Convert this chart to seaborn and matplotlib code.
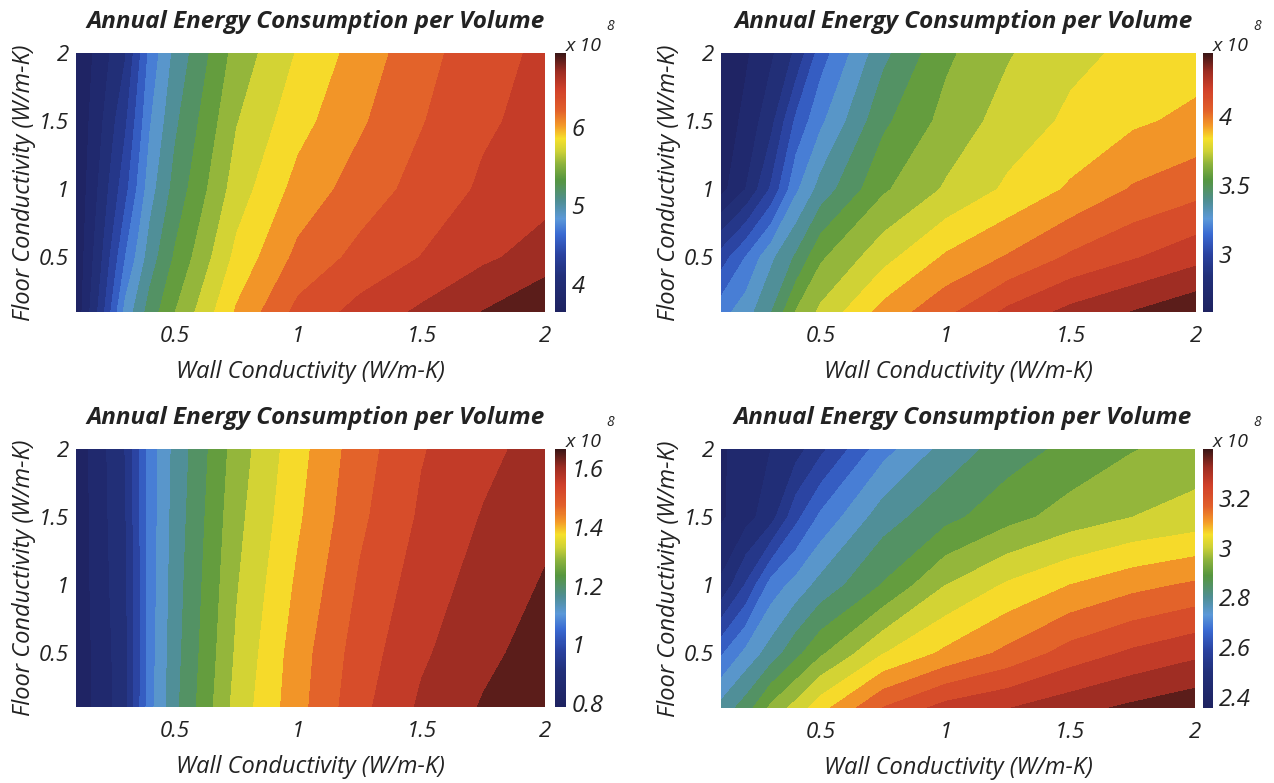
import numpy as np
import matplotlib
matplotlib.use("Agg")
import matplotlib.pyplot as plt
import seaborn as sns
from matplotlib.colors import Normalize, LinearSegmentedColormap
from matplotlib.cm import ScalarMappable

# grid: wall conductivity (x), floor conductivity (y)
wall_k = [0.1, 0.2, 0.3, 0.4, 0.5, 0.75, 1.0, 1.25, 1.5, 1.75, 2.0]
floor_k = [0.1, 0.5, 1.0, 1.5, 2.0]

# annual energy per volume (x 10^8), one row per floor value
energy_tl = [
    [3.68, 4.20, 4.85, 5.20, 5.45, 5.97, 6.33, 6.50, 6.64, 6.78, 6.94],
    [3.67, 4.10, 4.63, 5.04, 5.31, 5.83, 6.16, 6.33, 6.45, 6.58, 6.68],
    [3.66, 4.01, 4.41, 4.89, 5.18, 5.70, 6.01, 6.19, 6.34, 6.47, 6.55],
    [3.655, 3.94, 4.27, 4.78, 5.09, 5.61, 5.89, 6.09, 6.27, 6.42, 6.50],
    [3.65, 3.88, 4.12, 4.68, 5.00, 5.52, 5.80, 6.02, 6.22, 6.38, 6.48],
]
energy_tr = [
    [3.20, 3.29, 3.42, 3.62, 3.73, 3.93, 4.06, 4.20, 4.30, 4.37, 4.44],
    [3.00, 3.15, 3.31, 3.44, 3.60, 3.77, 3.91, 4.00, 4.10, 4.17, 4.24],
    [2.64, 2.77, 2.97, 3.22, 3.37, 3.60, 3.72, 3.82, 3.91, 4.00, 4.05],
    [2.61, 2.70, 2.83, 3.07, 3.22, 3.50, 3.645, 3.75, 3.82, 3.88, 3.92],
    [2.60, 2.66, 2.75, 2.88, 3.10, 3.40, 3.595, 3.70, 3.78, 3.82, 3.85],
]
energy_bl = [
    [0.800, 0.850, 0.900, 1.080, 1.170, 1.330, 1.430, 1.520, 1.585, 1.625, 1.660],
    [0.800, 0.850, 0.905, 1.075, 1.165, 1.320, 1.425, 1.510, 1.570, 1.610, 1.640],
    [0.800, 0.855, 0.910, 1.072, 1.160, 1.310, 1.410, 1.495, 1.555, 1.595, 1.625],
    [0.800, 0.858, 0.915, 1.070, 1.155, 1.300, 1.395, 1.480, 1.540, 1.580, 1.610],
    [0.800, 0.860, 0.920, 1.070, 1.150, 1.290, 1.385, 1.470, 1.530, 1.565, 1.595],
]
energy_br = [
    [2.79, 2.85, 2.94, 3.00, 3.065, 3.19, 3.26, 3.29, 3.325, 3.355, 3.38],
    [2.66, 2.735, 2.795, 2.86, 2.92, 3.03, 3.095, 3.15, 3.21, 3.25, 3.28],
    [2.47, 2.57, 2.69, 2.74, 2.79, 2.88, 2.98, 3.04, 3.085, 3.12, 3.145],
    [2.40, 2.44, 2.49, 2.60, 2.68, 2.80, 2.86, 2.91, 2.95, 2.98, 3.00],
    [2.40, 2.43, 2.46, 2.49, 2.55, 2.70, 2.79, 2.85, 2.89, 2.925, 2.95],
]

cbar_limits = [(3.64, 6.94), (2.58, 4.46), (0.787, 1.665), (2.356, 3.396)]
cbar_ticks = [[4, 5, 6], [3, 3.5, 4], [0.8, 1, 1.2, 1.4, 1.6], [2.4, 2.6, 2.8, 3, 3.2]]
axis_ticks = [0.5, 1, 1.5, 2]
tick_text = ["0.5", "1", "1.5", "2"]

sns.set_theme(style="white")
plt.rcParams["font.family"] = ["Open Sans", "DejaVu Sans"]
ink = "#222222"

cmap = LinearSegmentedColormap.from_list("energy", [
    (0.00, "#1e2260"), (0.14, "#22307a"), (0.22, "#2a42a0"), (0.30, "#3a6ad2"),
    (0.36, "#5b98d8"), (0.43, "#4f8e92"), (0.51, "#56963f"), (0.57, "#8cb23c"),
    (0.62, "#cdd136"), (0.67, "#f6e02a"), (0.72, "#f49a28"), (0.78, "#e2602a"),
    (0.86, "#d0402a"), (0.93, "#9c2c22"), (1.00, "#3a1616"),
])

fig = plt.figure(figsize=(12.74, 7.83), dpi=100)
W, H = 1274, 783

# pixel boxes: (left, right, top, bottom) of plot and colorbar x span
panels = [
    (76, 545, 53, 312, 555, 566),
    (721, 1196, 53, 312, 1203, 1213),
    (76, 545, 449, 707, 555, 566),
    (721, 1195, 449, 708, 1203, 1213),
]
data = [energy_tl, energy_tr, energy_bl, energy_br]

for i, (l, r, t, b, cl, cr) in enumerate(panels):
    ax = fig.add_axes([l / W, 1 - b / H, (r - l) / W, (b - t) / H])
    vmin, vmax = cbar_limits[i]
    levels = np.linspace(vmin, vmax, 21)
    ax.contourf(wall_k, floor_k, np.array(data[i]), levels=levels, cmap=cmap,
                vmin=vmin, vmax=vmax, extend="both")
    ax.set_xlim(0.1, 2)
    ax.set_ylim(0.1, 2)
    ax.set_xticks(axis_ticks)
    ax.set_yticks(axis_ticks)
    ax.set_xticklabels(tick_text, fontstyle="italic", fontsize=16, color=ink)
    ax.set_yticklabels(tick_text, fontstyle="italic", fontsize=16, color=ink)
    ax.tick_params(axis="x", length=0, pad=10)
    ax.tick_params(axis="y", length=0, pad=5)
    for s in ax.spines.values():
        s.set_visible(False)
    ax.set_xlabel("Wall Conductivity (W/m-K)", fontstyle="italic", fontsize=17, color=ink)
    ax.set_ylabel("Floor Conductivity (W/m-K)", fontstyle="italic", fontsize=17, color=ink)
    ax.xaxis.set_label_coords(0.5, -48 / (b - t))
    ax.yaxis.set_label_coords(-40 / (r - l), 0.5)
    ax.set_title("Annual Energy Consumption per Volume", fontstyle="italic", fontweight="bold",
                 fontsize=17.5, color=ink, pad=18, x=0.51)

    cax = fig.add_axes([cl / W, 1 - b / H, (cr - cl) / W, (b - t) / H])
    sm = ScalarMappable(norm=Normalize(vmin, vmax), cmap=cmap)
    cb = fig.colorbar(sm, cax=cax)
    cb.outline.set_visible(False)
    cb.set_ticks(cbar_ticks[i])
    cb.set_ticklabels([f"{v:g}" for v in cbar_ticks[i]], fontstyle="italic", fontsize=17, color=ink)
    cax.tick_params(length=0, pad=4)
    fig.text(cr / W, 1 - (t - 2) / H, "x 10", fontstyle="italic", fontsize=14,
             color=ink, ha="left", va="baseline")
    fig.text((cr + 40) / W, 1 - (t - 23) / H, "8", fontstyle="italic", fontsize=10,
             color=ink, ha="left", va="baseline")

fig.savefig("out.png", dpi=100)
